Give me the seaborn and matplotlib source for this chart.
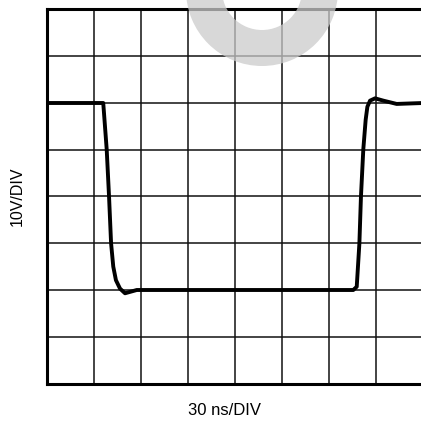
import matplotlib
matplotlib.use("Agg")
import matplotlib.pyplot as plt
from matplotlib.patches import Wedge
from matplotlib.transforms import IdentityTransform
import numpy as np
import pandas as pd
import seaborn as sns

# Scope settings
ns_per_div = 30
volts_per_div = 10
n_div = 8

# Captured waveform: time (ns) and amplitude (V, measured from the bottom graticule line)
time_ns = [0, 35.9, 38.1, 39.6, 40.9, 42.3, 44.0, 46.6, 49.8, 57.3,
           195.5, 197.7, 199.4, 200.4, 201.9, 203.4, 204.5, 206.2, 209.4,
           214.7, 223.2, 240]
volts = [60, 60, 50.1, 40, 30, 25, 22.1, 20.3, 19.3, 20,
         20, 20.7, 30, 40, 50.1, 56.4, 59.2, 60.5, 61.0,
         60.5, 59.8, 60]

x_label = "30 ns/DIV"
y_label = "10V/DIV"

df = pd.DataFrame({"t": time_ns, "v": volts})

sns.set_theme(style="white")
plt.rcParams["font.family"] = ["Liberation Sans", "DejaVu Sans"]

W, H = 421, 423
fig = plt.figure(figsize=(W / 100, H / 100), dpi=100)
ax = fig.add_axes([47 / W, 39.5 / H, 376 / W, 374 / H])

sns.lineplot(data=df, x="t", y="v", ax=ax, color="black", linewidth=2.8,
             estimator=None, sort=False, zorder=3)

ax.set_xlim(0, n_div * ns_per_div)
ax.set_ylim(0, n_div * volts_per_div)
ax.set_xticks(np.arange(0, n_div + 1) * ns_per_div)
ax.set_yticks(np.arange(0, n_div + 1) * volts_per_div)
ax.tick_params(length=0, labelbottom=False, labelleft=False)
ax.grid(True, color="#111111", linewidth=1.1)
ax.set_axisbelow(True)
ax.set_xlabel("")
ax.set_ylabel("")
for side in ["top", "left", "bottom", "right"]:
    ax.spines[side].set_color("black")
    ax.spines[side].set_linewidth(2.2)

# Light grey ring watermark across the top edge (pixel units, origin bottom-left)
ring = Wedge((262, H + 10), 76, 0, 360, width=36,
             facecolor="#cbcbcb", edgecolor="none", alpha=0.75, zorder=5,
             transform=IdentityTransform(), clip_on=False)
fig.add_artist(ring)

fig.text(225 / W, 1 - 410 / H, x_label, ha="center", va="center", fontsize=12, color="black")
fig.text(17.5 / W, 1 - 196 / H, y_label, ha="center", va="center", rotation=90,
         fontsize=11.5, color="black")

fig.savefig("out.png", dpi=100)
